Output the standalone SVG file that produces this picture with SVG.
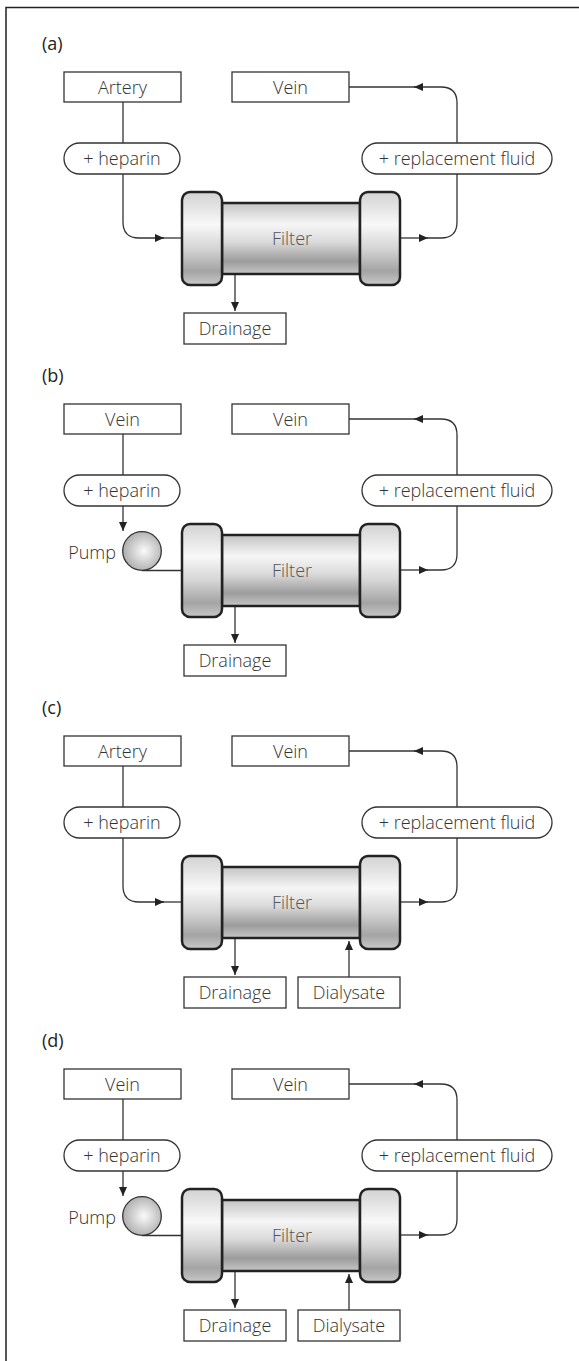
<svg xmlns="http://www.w3.org/2000/svg" width="579" height="1361" viewBox="0 0 579 1361">
<style>
text{font-family:"Open Sans","Noto Sans",sans-serif;font-size:18px;font-weight:300;fill:#333}
.lbl{fill:#222;font-weight:400}
.box{fill:#fff;stroke:#333;stroke-width:1.3}
.ln{fill:none;stroke:#333;stroke-width:1.3}
.arr{fill:none;stroke:#333;stroke-width:1.3;marker-end:url(#ah)}
.body{fill:url(#gBody);stroke:#222;stroke-width:2.5}
.cap{fill:url(#gCap);stroke:#222;stroke-width:2.5}
.pump{fill:url(#gPump);stroke:#333;stroke-width:1.3}
.ft{fill:#555}
</style>
<defs>
<marker id="ah" markerUnits="userSpaceOnUse" markerWidth="10" markerHeight="9" refX="9" refY="4" orient="auto">
<path d="M0,0 L9,4 L0,8 z" fill="#222"/>
</marker>
<linearGradient id="gBody" x1="0" y1="0" x2="0" y2="1">
<stop offset="0" stop-color="#c4c4c4"/>
<stop offset="0.3" stop-color="#f6f6f6"/>
<stop offset="0.55" stop-color="#dadada"/>
<stop offset="0.82" stop-color="#9c9c9c"/>
<stop offset="1" stop-color="#c6c6c6"/>
</linearGradient>
<linearGradient id="gCap" x1="0" y1="0" x2="0" y2="1">
<stop offset="0" stop-color="#d2d2d2"/>
<stop offset="0.35" stop-color="#f8f8f8"/>
<stop offset="0.6" stop-color="#d6d6d6"/>
<stop offset="0.85" stop-color="#a4a4a4"/>
<stop offset="1" stop-color="#c8c8c8"/>
</linearGradient>
<radialGradient id="gPump" cx="0.55" cy="0.5" r="0.6">
<stop offset="0" stop-color="#fafafa"/>
<stop offset="1" stop-color="#a6a6a6"/>
</radialGradient>
</defs>

<path id="frame" d="M6,1361 V7.5 H579" fill="none" stroke="#222" stroke-width="1.5"/>

<!-- Panel (a) -->
<g id="panel-a">
<g id="a-connectors">
<path class="ln" d="M123,102 V143"/>
<path class="arr" d="M123,174 V222 Q123,238 139,238 H164"/>
<path class="ln" d="M163,238 H182"/>
<path class="arr" d="M235,275 V311"/>
<path class="arr" d="M400,238 H428"/>
<path class="arr" d="M427,238 H441 Q457,238 457,222 V103 Q457,87 441,87 H414"/>
<path class="ln" d="M415,87 H349"/>
</g>
<g id="a-label"><text class="lbl" x="42" y="50">(a)</text></g>
<g id="a-artery"><rect class="box" x="64" y="72" width="117" height="30"/><text x="122.5" y="93.5" text-anchor="middle">Artery</text></g>
<g id="a-vein-out"><rect class="box" x="232" y="72" width="117" height="30"/><text x="290.5" y="93.5" text-anchor="middle">Vein</text></g>
<g id="a-heparin"><rect class="box" x="64" y="143" width="116" height="31" rx="15.5"/><text x="122" y="165" text-anchor="middle">+ heparin</text></g>
<g id="a-replacement"><rect class="box" x="362" y="143" width="190" height="31" rx="15.5"/><text x="457" y="165" text-anchor="middle">+ replacement fluid</text></g>
<g id="a-filter"><rect class="body" x="222" y="203" width="138" height="71"/><rect class="cap" x="182" y="192" width="40" height="93" rx="8"/><rect class="cap" x="360" y="192" width="40" height="93" rx="8"/><text class="ft" x="292" y="245" text-anchor="middle">Filter</text></g>
<g id="a-drainage"><rect class="box" x="184" y="313" width="102" height="31"/><text x="235" y="335" text-anchor="middle">Drainage</text></g>
</g>

<!-- Panel (b) -->
<g id="panel-b" transform="translate(0,332)">
<g id="b-connectors">
<path class="ln" d="M123,102 V143"/>
<path class="arr" d="M123,174 V199"/>
<path class="ln" d="M142,238.5 H182"/>
<path class="arr" d="M235,275 V311"/>
<path class="arr" d="M400,238 H428"/>
<path class="arr" d="M427,238 H441 Q457,238 457,222 V103 Q457,87 441,87 H414"/>
<path class="ln" d="M415,87 H349"/>
</g>
<g id="b-label"><text class="lbl" x="42" y="50">(b)</text></g>
<g id="b-vein-in"><rect class="box" x="64" y="72" width="117" height="30"/><text x="122.5" y="93.5" text-anchor="middle">Vein</text></g>
<g id="b-vein-out"><rect class="box" x="232" y="72" width="117" height="30"/><text x="290.5" y="93.5" text-anchor="middle">Vein</text></g>
<g id="b-heparin"><rect class="box" x="64" y="143" width="116" height="31" rx="15.5"/><text x="122" y="165" text-anchor="middle">+ heparin</text></g>
<g id="b-pump"><circle class="pump" cx="142" cy="219" r="19.3"/><text x="116" y="227" text-anchor="end">Pump</text></g>
<g id="b-replacement"><rect class="box" x="362" y="143" width="190" height="31" rx="15.5"/><text x="457" y="165" text-anchor="middle">+ replacement fluid</text></g>
<g id="b-filter"><rect class="body" x="222" y="203" width="138" height="71"/><rect class="cap" x="182" y="192" width="40" height="93" rx="8"/><rect class="cap" x="360" y="192" width="40" height="93" rx="8"/><text class="ft" x="292" y="245" text-anchor="middle">Filter</text></g>
<g id="b-drainage"><rect class="box" x="184" y="313" width="102" height="31"/><text x="235" y="335" text-anchor="middle">Drainage</text></g>
</g>

<!-- Panel (c) -->
<g id="panel-c" transform="translate(0,664)">
<g id="c-connectors">
<path class="ln" d="M123,102 V143"/>
<path class="arr" d="M123,174 V222 Q123,238 139,238 H164"/>
<path class="ln" d="M163,238 H182"/>
<path class="arr" d="M235,275 V311"/>
<path class="arr" d="M349,313 V277"/>
<path class="arr" d="M400,238 H428"/>
<path class="arr" d="M427,238 H441 Q457,238 457,222 V103 Q457,87 441,87 H414"/>
<path class="ln" d="M415,87 H349"/>
</g>
<g id="c-label"><text class="lbl" x="42" y="50">(c)</text></g>
<g id="c-artery"><rect class="box" x="64" y="72" width="117" height="30"/><text x="122.5" y="93.5" text-anchor="middle">Artery</text></g>
<g id="c-vein-out"><rect class="box" x="232" y="72" width="117" height="30"/><text x="290.5" y="93.5" text-anchor="middle">Vein</text></g>
<g id="c-heparin"><rect class="box" x="64" y="143" width="116" height="31" rx="15.5"/><text x="122" y="165" text-anchor="middle">+ heparin</text></g>
<g id="c-replacement"><rect class="box" x="362" y="143" width="190" height="31" rx="15.5"/><text x="457" y="165" text-anchor="middle">+ replacement fluid</text></g>
<g id="c-filter"><rect class="body" x="222" y="203" width="138" height="71"/><rect class="cap" x="182" y="192" width="40" height="93" rx="8"/><rect class="cap" x="360" y="192" width="40" height="93" rx="8"/><text class="ft" x="292" y="245" text-anchor="middle">Filter</text></g>
<g id="c-drainage"><rect class="box" x="184" y="313" width="102" height="31"/><text x="235" y="335" text-anchor="middle">Drainage</text></g>
<g id="c-dialysate"><rect class="box" x="298" y="313" width="102" height="31"/><text x="349" y="335" text-anchor="middle">Dialysate</text></g>
</g>

<!-- Panel (d) -->
<g id="panel-d" transform="translate(0,997)">
<g id="d-connectors">
<path class="ln" d="M123,102 V143"/>
<path class="arr" d="M123,174 V199"/>
<path class="ln" d="M142,238.5 H182"/>
<path class="arr" d="M235,275 V311"/>
<path class="arr" d="M349,313 V277"/>
<path class="arr" d="M400,238 H428"/>
<path class="arr" d="M427,238 H441 Q457,238 457,222 V103 Q457,87 441,87 H414"/>
<path class="ln" d="M415,87 H349"/>
</g>
<g id="d-label"><text class="lbl" x="42" y="50">(d)</text></g>
<g id="d-vein-in"><rect class="box" x="64" y="72" width="117" height="30"/><text x="122.5" y="93.5" text-anchor="middle">Vein</text></g>
<g id="d-vein-out"><rect class="box" x="232" y="72" width="117" height="30"/><text x="290.5" y="93.5" text-anchor="middle">Vein</text></g>
<g id="d-heparin"><rect class="box" x="64" y="143" width="116" height="31" rx="15.5"/><text x="122" y="165" text-anchor="middle">+ heparin</text></g>
<g id="d-pump"><circle class="pump" cx="142" cy="219" r="19.3"/><text x="116" y="227" text-anchor="end">Pump</text></g>
<g id="d-replacement"><rect class="box" x="362" y="143" width="190" height="31" rx="15.5"/><text x="457" y="165" text-anchor="middle">+ replacement fluid</text></g>
<g id="d-filter"><rect class="body" x="222" y="203" width="138" height="71"/><rect class="cap" x="182" y="192" width="40" height="93" rx="8"/><rect class="cap" x="360" y="192" width="40" height="93" rx="8"/><text class="ft" x="292" y="245" text-anchor="middle">Filter</text></g>
<g id="d-drainage"><rect class="box" x="184" y="313" width="102" height="31"/><text x="235" y="335" text-anchor="middle">Drainage</text></g>
<g id="d-dialysate"><rect class="box" x="298" y="313" width="102" height="31"/><text x="349" y="335" text-anchor="middle">Dialysate</text></g>
</g>
</svg>
